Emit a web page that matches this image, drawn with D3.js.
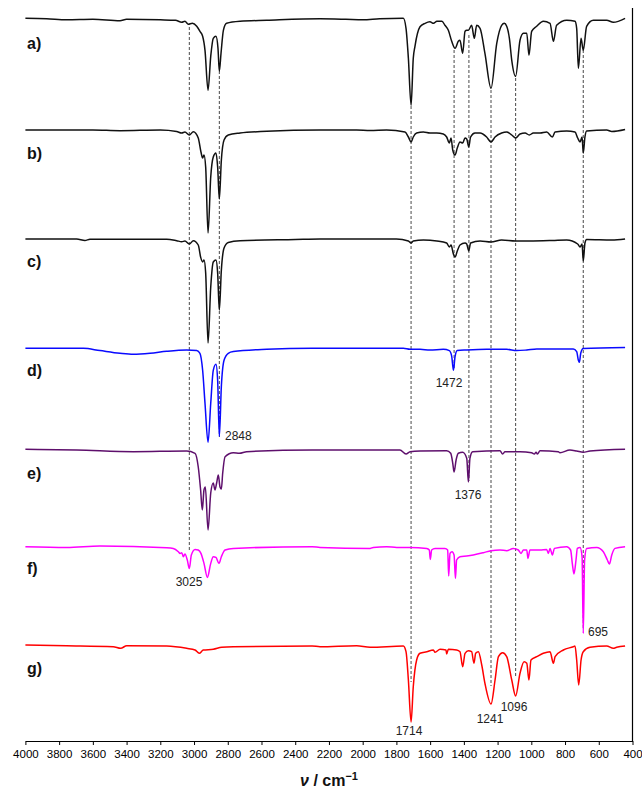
<!DOCTYPE html>
<html><head><meta charset="utf-8">
<script src="https://cdn.jsdelivr.net/npm/d3@7/dist/d3.min.js"></script>
<style>body{margin:0;background:#fff}svg{display:block}</style>
</head><body>
<script>
// wavenumber (cm-1), absorption depth (a.u., 0 = baseline, positive = downward band)
const specA=[[4000,0],[3874,0.5],[3755,1.5],[3600,1],[3439,2.5],[3400,1],[3200,1.5],[3110,2],[3073,4],[3054,3],[3034,6],[3010,5],[2984,8],[2965,13],[2949,18],[2935,32],[2917,72],[2901,38],[2886,20],[2870,18],[2858,30],[2850,53],[2840,35],[2826,12],[2807,5],[2727,3],[2569,2],[2253,0.5],[2100,1],[2000,1.5],[1900,0.5],[1759,0],[1743,10],[1729,40],[1713,87],[1700,40],[1690,28],[1660,8.5],[1630,5],[1601,3.5],[1580,5],[1560,3],[1530,3],[1512,7],[1492,12],[1472,23],[1452,30],[1433,23],[1423,22],[1407,35],[1393,13],[1383,12],[1373,12],[1354,7],[1338,20],[1324,7],[1304,10],[1275,35],[1239,70],[1205,25],[1176,7],[1160,5],[1146,8],[1130,20],[1116,42],[1093,58],[1067,22],[1047,15],[1027,15],[1014,37],[998,13],[968,8],[929,3],[889,5],[869,23],[850,7],[790,2],[741,3],[731,10],[721,50],[705,20],[692,32],[672,8],[632,2],[553,2],[514,4],[444,0]];
const specB=[[4000,0],[3600,0],[3439,0.7],[3200,0],[3103,1.5],[3073,3],[3054,2],[3028,5],[3004,1.7],[2975,8],[2959,22],[2949,28],[2941,25],[2931,37],[2917,103],[2901,47],[2886,27],[2870,23],[2860,37],[2850,69],[2838,30],[2822,10],[2797,5],[2727,3],[2569,1.3],[2253,0],[2036,0],[1956,0.5],[1858,0],[1749,2],[1729,7],[1713,12],[1700,7],[1680,3],[1640,2],[1601,3],[1561,3],[1522,4],[1502,7],[1486,13],[1476,8],[1466,20],[1452,25],[1439,18],[1423,12],[1407,13],[1393,8],[1383,9],[1371,17],[1360,7],[1334,3],[1304,3],[1265,7],[1239,12],[1215,7],[1176,3],[1146,2],[1116,5],[1093,8],[1067,4],[1037,3],[1012,5],[988,3],[948,3],[909,2],[875,7],[859,2],[790,1],[741,2],[725,8],[711,12],[699,7],[692,23],[682,7],[672,1],[553,0],[523,1.5],[444,-0.5]];
const specC=[[4000,0],[3696,0],[3647,1.5],[3617,0.3],[3162,0.3],[3103,1.7],[3073,2.7],[3054,2],[3028,5],[3004,1.7],[2975,6],[2961,18],[2949,23],[2941,21],[2931,34],[2917,104],[2901,48],[2886,23],[2870,21],[2860,34],[2850,71],[2838,31],[2822,9],[2797,3.5],[2727,1.7],[2400,0.5],[2253,0],[2000,0],[1800,0],[1729,2],[1713,4],[1700,2],[1640,1],[1560,2],[1502,4],[1486,8],[1476,6],[1462,15],[1452,18],[1439,12],[1423,6],[1393,4],[1383,5],[1371,12],[1360,4],[1304,2],[1239,3],[1176,1],[1093,2],[1012,2],[875,1.5],[790,1],[725,5],[711,8],[699,5],[692,22],[682,4],[672,0.5],[523,1],[444,0]];
const specD=[[4000,0],[3656,0],[3558,2.3],[3439,5],[3360,6],[3261,5],[3162,3],[3044,1.7],[2984,2.3],[2965,5],[2949,22],[2935,55],[2917,94],[2901,55],[2886,22],[2870,16],[2860,32],[2850,88],[2838,38],[2822,12],[2797,5],[2767,3.3],[2569,1],[2300,0],[2253,0],[1759,0],[1719,1],[1660,1],[1601,1.7],[1522,1],[1486,2.3],[1472,8],[1462,22],[1452,8],[1439,2.3],[1383,1.7],[1265,1],[1146,1],[1087,2.3],[1027,1.7],[968,0.7],[751,0.7],[731,3.3],[721,12],[715,14],[707,5],[692,0.3],[444,-0.7]];
const specE=[[4000,-0.7],[3696,0],[3360,1.7],[3044,1],[2994,3.3],[2975,17],[2961,40],[2951,60],[2941,40],[2933,37],[2917,80],[2901,43],[2886,33],[2876,40],[2866,33],[2856,25],[2846,37],[2838,39],[2830,23],[2816,6.7],[2767,2.7],[2731,3.3],[2688,1.7],[2300,0],[2253,0],[1779,0],[1743,4],[1719,1.7],[1660,1],[1502,0.7],[1478,3.3],[1466,13],[1458,22],[1446,10],[1433,3.3],[1407,2.3],[1383,8.3],[1373,32],[1364,8.3],[1348,1.7],[1186,0.7],[1170,4],[1156,1.7],[1067,1.7],[998,2.7],[982,4],[972,2.3],[964,4],[948,0.7],[840,1.7],[830,2.7],[771,0],[731,1],[692,2.3],[652,1],[444,-0.7]];
const specF=[[4000,0],[3755,0.7],[3558,-0.7],[3162,1],[3123,1.7],[3093,5],[3083,6.7],[3073,6],[3063,10],[3054,7.3],[3040,13.3],[3028,21.7],[3016,8.3],[2994,2.7],[2975,3.3],[2959,6.7],[2941,16.7],[2921,30.7],[2901,16.7],[2886,10],[2870,10.7],[2852,16.7],[2838,10],[2816,3.3],[2767,1.7],[2300,0],[2253,0.7],[1956,1.7],[1937,0.7],[1858,0],[1798,0.7],[1719,0.7],[1620,1.7],[1605,3.3],[1599,12.7],[1591,3.3],[1571,1.7],[1512,1.7],[1496,3.3],[1490,29.3],[1482,6.7],[1470,5],[1458,8.3],[1450,31.7],[1443,13.3],[1423,10],[1383,9.3],[1344,8.3],[1284,6],[1239,4],[1186,3.3],[1146,4],[1107,1.7],[1077,3.3],[1061,6.7],[1047,3.3],[1027,3.3],[1020,11.7],[1008,3.3],[948,3.3],[909,2.7],[899,6.7],[889,1.7],[875,8.3],[863,1.7],[790,0],[767,3.3],[757,16.7],[747,27.3],[735,13.3],[727,1.7],[711,0.7],[699,10],[692,86.7],[684,13.3],[672,1.7],[612,0.7],[573,5],[549,13.3],[537,17.3],[523,8.3],[504,1.7],[444,0]];
const specG=[[4000,0],[3755,0.7],[3479,1.7],[3435,3.3],[3399,0.7],[3162,1],[3044,3.3],[2994,5],[2969,8.3],[2945,5],[2886,4.3],[2836,2.3],[2767,1.7],[2300,1],[2253,1.7],[2036,0.7],[1956,2.3],[1759,1],[1743,6.7],[1729,35],[1713,77],[1700,41.7],[1680,15],[1660,8.3],[1620,6.7],[1581,5],[1571,7.3],[1541,4.3],[1506,5],[1502,9],[1492,4.3],[1443,5],[1423,6.7],[1407,21.7],[1393,8.3],[1373,5.7],[1354,6.7],[1340,18.3],[1330,8.3],[1314,6.7],[1294,20],[1275,38.3],[1239,59],[1215,35],[1195,11.7],[1170,7.7],[1146,11.7],[1116,35],[1093,51],[1067,28.3],[1043,16.7],[1027,18.3],[1014,35],[1002,15],[968,11.7],[929,8.3],[889,6.7],[869,18.3],[859,11.7],[810,5],[751,1.7],[741,1],[731,15],[719,40],[705,15],[692,6.7],[652,2.3],[553,1],[514,3.3],[494,2.3],[444,1]];

const panelLabels=["a)","b)","c)","d)","e)","f)","g)"];
const panelColors=["#111111","#111111","#111111","#0a0aff","#5e0f6c","#ff00ff","#ff0000"];
const spectra=[specA,specB,specC,specD,specE,specF,specG];

// dashed guide lines
const guideWn=[3028,2850,1713,1458,1370,1239,1093,692];
const guideLabels=["3025","2848","1714","1472","1376","1241","1096","695"];
const tickValues=d3.range(4000,399,-200);

const W=642,H=794;
const svg=d3.select("body").append("svg").attr("width",W).attr("height",H);
const x=d3.scaleLinear().domain([4000,400]).range([25.4,632.5]);
const baselines=[18.3,130,239,348.3,450,546.7,645];
const yFor=i=>d3.scaleLinear().domain([0,100]).range([baselines[i],baselines[i]+100]);
const font="'Liberation Sans', Arial, sans-serif";

const guideExtents=[[27,550],[71,437],[106,682],[50,370],[35,481],[90,686],[78,676],[50,628]];
svg.append("g").selectAll("line").data(guideWn).join("line")
  .attr("x1",d=>x(d)).attr("x2",d=>x(d))
  .attr("y1",(d,i)=>guideExtents[i][0]).attr("y2",(d,i)=>guideExtents[i][1])
  .attr("stroke","#333").attr("stroke-width",0.9).attr("stroke-dasharray","3,2");

spectra.forEach((s,i)=>{
  const y=yFor(i);
  const line=d3.line().x(d=>x(d[0])).y(d=>y(d[1])).curve(d3.curveMonotoneX);
  svg.append("path").datum(s).attr("d",line).attr("fill","none")
    .attr("stroke",panelColors[i]).attr("stroke-width",1.5).attr("stroke-linejoin","round");
});

const letterY=[49,159,267,376,479,574,674];
svg.append("g").selectAll("text").data(panelLabels).join("text")
  .attr("x",27).attr("y",(d,i)=>letterY[i]).text(d=>d)
  .attr("font-family",font).attr("font-weight","bold").attr("font-size",16).attr("fill","#111");

const labelPos=[[189,586,"middle"],[225,440,"start"],[409,735,"middle"],[449,387,"middle"],[468,499,"middle"],[490,723,"middle"],[514,711,"middle"],[598,636,"middle"]];
svg.append("g").selectAll("text").data(guideLabels).join("text")
  .attr("x",(d,i)=>labelPos[i][0]).attr("y",(d,i)=>labelPos[i][1])
  .attr("text-anchor",(d,i)=>labelPos[i][2]).text(d=>d)
  .attr("font-family",font).attr("font-size",12).attr("fill","#222");

svg.append("line").attr("x1",x(400)).attr("x2",x(400)).attr("y1",8).attr("y2",741)
  .attr("stroke","#000").attr("stroke-width",1.2);

const ax=svg.append("g").attr("transform","translate(0,741)")
  .call(d3.axisBottom(x).tickValues(tickValues).tickSize(4).tickSizeOuter(0).tickFormat(d3.format("d")));
ax.select(".domain").attr("stroke","#000").attr("stroke-width",1.2);
ax.selectAll(".tick line").attr("stroke","#000");
ax.selectAll(".tick text").attr("font-family",font).attr("font-size",11.5).attr("fill","#000").attr("dy","0.9em");

const t=svg.append("text").attr("x",329).attr("y",786).attr("text-anchor","middle")
  .attr("font-family",font).attr("font-weight","bold").attr("font-size",16).attr("fill","#111");
t.append("tspan").attr("font-style","italic").text("ν");
t.append("tspan").text(" / cm");
t.append("tspan").attr("font-size",11).attr("dy",-6).text("−1");
</script>
</body></html>
